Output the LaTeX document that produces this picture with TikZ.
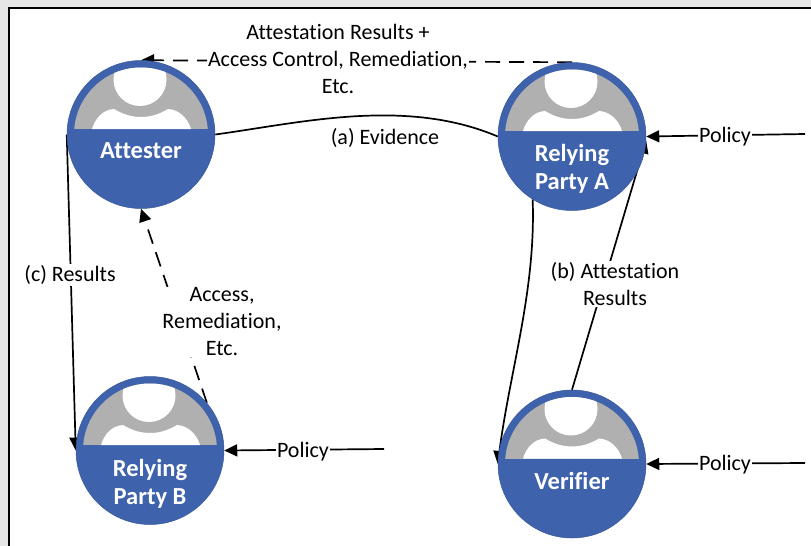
\documentclass[tikz,border=0pt]{standalone}
\usepackage{fontspec}
\setmainfont{Carlito}[Ligatures=NoCommon]
\usetikzlibrary{arrows.meta,backgrounds}
\definecolor{pblue}{HTML}{3E62AC}
\definecolor{pgray}{HTML}{B0B0B0}
\definecolor{pframe}{HTML}{E6E6E6}
\tikzset{
  person/.style={circle,fill=pblue,draw=pblue!90!black,line width=0.5pt,minimum size=148pt,inner sep=0pt},
  persontext/.style={text=white,font=\fontsize{24.5}{28}\selectfont\bfseries,align=center,inner sep=0pt},
  lbl/.style={font=\fontsize{22}{27}\selectfont,align=center,inner sep=1pt,fill=white},
  conn/.style={line width=1.7pt,draw=black},
  tipped/.style={-{Triangle[length=13pt,width=12pt]}},
  dashconn/.style={conn,dash pattern=on 15pt off 9pt},
}
\newcommand{\personglyph}[2]{%
  \begin{scope}[shift={(#1,#2)}]
    \clip (0,0) circle[radius=67];
    \clip (-70,-5.5) rectangle (70,-80);
    \fill[pgray] (-70,-5.5) rectangle (70,-80);
    \fill[white] (-49,-5.5) .. controls (-46,-16) and (-38,-25) .. (-27,-25.5) .. controls (-18,-20) and (-9,-17.5) .. (0,-17.5) .. controls (9,-17.5) and (18,-20) .. (27,-25.5) .. controls (38,-25) and (47,-16) .. (50,-5.5) -- cycle;
    \fill[white] (-1,-55) circle[radius=26.5];
  \end{scope}}
\begin{document}
\begin{tikzpicture}[x=1pt,y=-1pt]
\useasboundingbox (0,0) rectangle (811,546);
% people
\node[person] (att) at (141,134.5) {};
\node[person] (rpa) at (572,136.5) {};
\node[person] (rpb) at (150,450.5) {};
\node[person] (ver) at (572,464) {};
\personglyph{141}{134.5}
\personglyph{572}{136.5}
\personglyph{150}{450.5}
\personglyph{572}{464}
\node[persontext] (atttext) at (141,150.5) {Attester};
\node[persontext] (rpatext) at (572,169) {Relying\\Party A};
\node[persontext] (rpbtext) at (150,484) {Relying\\Party B};
\node[persontext] (vertext) at (572,481) {Verifier};
% free ends
\coordinate (pa) at (805,134);
\coordinate (pb) at (384,449);
\coordinate (pv) at (805,463);
% labels
\node[lbl] (lresults) at (338,59) {Attestation Results +\\Access Control, Remediation,\\Etc.};
\node[lbl] (levidence) at (385,138) {(a) Evidence};
\node[lbl] (lc) at (70,275) {(c) Results};
\node[lbl] (lacc) at (222,322) {Access,\\Remediation,\\Etc.};
\node[lbl] (lb) at (615,284) {(b) Attestation\\Results};
\node[lbl] (lpa) at (725,137) {Policy};
\node[lbl] (lpb) at (303,452) {Policy};
\node[lbl] (lpv) at (725,465) {Policy};
\begin{pgfonlayer}{background}
\fill[pframe] (0,0) rectangle (811,546);
\fill[white] (9,8) rectangle (811,546);
\draw[line width=2pt] (9,546) -- (9,8) -- (811,8);
\draw[dashconn,tipped] (rpa.north) -- (att.north);
\draw[conn] (att.east) .. controls (300,123) and (405,97) .. (rpa.west);
\draw[conn,tipped] (att.west) -- (rpb.west);
\draw[dashconn,tipped] (rpb.40) -- (att.south);
\draw[conn,tipped] (rpa.-122) .. controls (536,290) and (510,370) .. (ver.west);
\draw[conn,tipped] (ver.north) -- (rpa.-3);
\draw[conn,tipped] (pa) -- (rpa.east);
\draw[conn,tipped] (pb) -- (rpb.east);
\draw[conn,tipped] (pv) -- (ver.east);
\end{pgfonlayer}
\end{tikzpicture}
\end{document}
